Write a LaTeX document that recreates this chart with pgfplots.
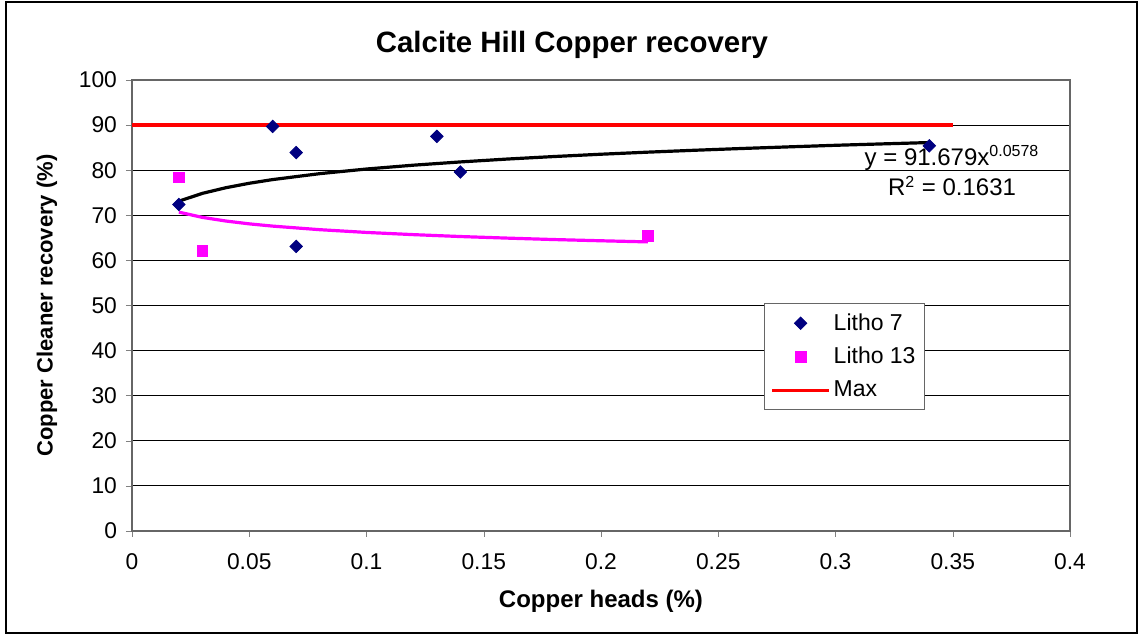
\documentclass[border=0pt]{standalone}
\usepackage{fontspec}
\setmainfont{Liberation Sans}
\usepackage{pgfplots}
\pgfplotsset{compat=1.18}
\definecolor{navy}{RGB}{0,0,128}
\definecolor{magen}{RGB}{255,0,255}

\begin{document}
\begin{tikzpicture}
% outer chart frame, 1px = 0.5pt
\draw[black, line width=0.6pt] (3pt,1pt) rectangle (568.5pt,316.5pt);
\path (0,0) rectangle (569.5pt,317.5pt);
\begin{axis}[
  at={(66pt,52pt)}, anchor=south west,
  scale only axis, width=469pt, height=225.5pt,
  xmin=0, xmax=0.4, ymin=0, ymax=100,
  xtick={0,0.05,...,0.4}, ytick={0,10,...,100},
  /pgf/number format/assume math mode=true,
  /pgf/number format/fixed, /pgf/number format/precision=2,
  tick label style={font=\fontsize{11.4}{13}\selectfont},
  xticklabel style={yshift=-5pt},
  yticklabel style={xshift=-1pt},
  tick align=outside, major tick length=3pt,
  xtick pos=bottom, ytick pos=left,
  ymajorgrids, grid style={black, line width=0.5pt},
  axis line style={gray!80!black, line width=0.6pt},
  title={\textbf{Calcite Hill Copper recovery}},
  title style={font=\fontsize{14.7}{17}\selectfont, yshift=1pt, xshift=-14.5pt},
  xlabel={\textbf{Copper heads (\%)}},
  ylabel={\textbf{Copper Cleaner recovery (\%)}},
  xlabel style={font=\fontsize{12}{14}\selectfont, yshift=-3pt},
  ylabel style={font=\fontsize{11}{13}\selectfont, yshift=4pt},
  legend cell align=left,
  legend image code/.code={\draw[mark repeat=2, mark phase=2, #1]
    plot coordinates {(0cm,0cm) (0.5cm,0cm) (1cm,0cm)};},
  legend style={at={(0.674,0.5055)}, anchor=north west, draw=gray!80!black,
    font=\fontsize{11.5}{14}\selectfont, row sep=3pt, inner xsep=3pt, inner ysep=3pt,
    nodes={inner xsep=1.5pt}},
]
% power trend lines (Excel)
\addplot[black, line width=1.6pt, forget plot] coordinates {
(0.02,73.13) (0.03,74.86) (0.04,76.11) (0.05,77.10) (0.06,77.92) (0.08,79.23)
(0.10,80.26) (0.12,81.11) (0.14,81.83) (0.16,82.47) (0.18,83.03) (0.20,83.54)
(0.22,84.00) (0.24,84.42) (0.26,84.81) (0.28,85.17) (0.30,85.52) (0.32,85.83) (0.34,86.13)};
\addplot[magen, line width=1.6pt, forget plot] coordinates {
(0.02,70.70) (0.03,69.54) (0.04,68.73) (0.05,68.10) (0.06,67.60) (0.08,66.81)
(0.10,66.20) (0.12,65.71) (0.14,65.29) (0.16,64.94) (0.18,64.62) (0.20,64.35) (0.22,64.10)};
\addplot[only marks, mark=square*, mark size=2.2pt, mark options={rotate=45}, color=navy] coordinates {
(0.02,72.4) (0.06,89.7) (0.07,83.9) (0.07,63.1) (0.13,87.5) (0.14,79.6) (0.34,85.4)};
\addlegendentry{Litho 7}
\addplot[only marks, mark=square*, mark size=2.7pt, color=magen] coordinates {
(0.02,78.4) (0.03,62.1) (0.22,65.4)};
\addlegendentry{Litho 13}
\addplot[red, line width=1.6pt] coordinates {(0,90) (0.35,90)};
\addlegendentry{Max}
\node[anchor=center, font=\fontsize{12}{14}\selectfont] at (axis cs:0.3497,82.7) {y = 91.679x\textsuperscript{0.0578}};
\node[anchor=center, font=\fontsize{12}{14}\selectfont] at (axis cs:0.3497,76.5) {R\textsuperscript{2} = 0.1631};
\end{axis}
\end{tikzpicture}
\end{document}
